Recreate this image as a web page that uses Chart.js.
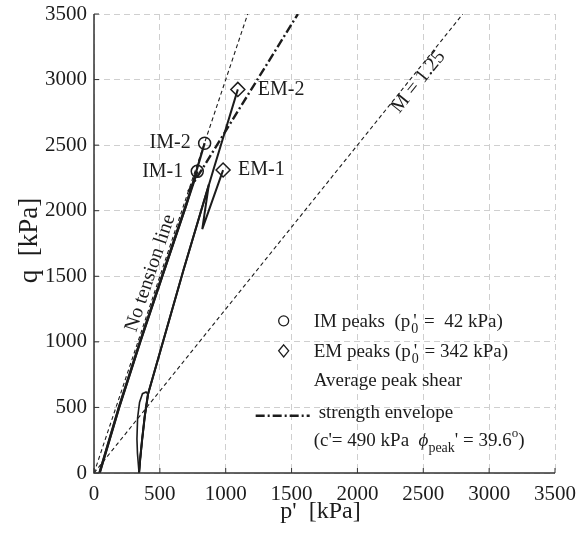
<!DOCTYPE html>
<html>
<head>
<meta charset="utf-8">
<script src="https://cdn.jsdelivr.net/npm/chart.js@4/dist/chart.umd.min.js"></script>
<style>
  html, body { margin:0; padding:0; background:#fff; }
  #wrap { width:582px; height:537px; }
</style>
</head>
<body>
<div id="wrap"><canvas id="pq" width="582" height="537"></canvas></div>
<script>
// p'-q stress paths with peak points and strength lines
const TICKS = [0, 500, 1000, 1500, 2000, 2500, 3000, 3500];

// reference lines
const noTensionP = [0, 1167];
const noTensionQ = [0, 3500];
const csLineP = [0, 2800];      // M = 1.25
const csLineQ = [0, 3500];
const envelopeP = [715, 1548];  // starts where it leaves the no tension line
const envelopeQ = [2145, 3500];

// IM tests (p0' = 42 kPa)
const im1P = [42, 190, 350, 517, 784];
const im1Q = [0, 500, 1000, 1500, 2300];
const im2P = [42, 190, 350, 517, 700, 840];
const im2Q = [0, 500, 1000, 1500, 2040, 2515];

// EM tests (p0' = 342 kPa)
const emLoopP = [342, 330, 326, 331, 346, 368, 395, 410, 385, 365, 350, 342];
const emLoopQ = [0, 150, 260, 420, 540, 605, 618, 600, 430, 250, 100, 0];
const em1P = [342, 350, 365, 385, 410, 680, 872, 822, 980];
const em1Q = [0, 100, 250, 430, 600, 1550, 2200, 1860, 2310];
const em2P = [342, 350, 365, 385, 410, 680, 906, 1092];
const em2Q = [0, 100, 250, 430, 600, 1550, 2311, 2925];

// peaks
const imPeakP = [784, 840];
const imPeakQ = [2300, 2515];
const imPeakNames = ['IM-1', 'IM-2'];
const emPeakP = [980, 1092];
const emPeakQ = [2310, 2925];
const emPeakNames = ['EM-1', 'EM-2'];

const SERIF = '"Liberation Serif", "Times New Roman", serif';
const INK = '#1c1c1c';

const pts = (ps, qs) => ps.map((p, i) => ({ x: p, y: qs[i] }));

function pathSet(ps, qs, width, dash){
  return {
    data: pts(ps, qs), showLine: true, borderColor: INK, borderWidth: width,
    borderDash: dash || [], pointRadius: 0, tension: 0, fill: false
  };
}

// draws a run of text pieces; 'keep' leaves the pen where it was (stacked sub/superscripts)
function richText(ctx, x, y, parts){
  let cx = x;
  for (const s of parts) {
    ctx.font = (s.italic ? 'italic ' : '') + (s.size || 19) + 'px ' + SERIF;
    ctx.fillText(s.t, cx + (s.dx || 0), y + (s.dy || 0));
    if (!s.keep) cx += ctx.measureText(s.t).width + (s.dx || 0);
  }
}

// text placed alongside a straight line, rotated to its pixel slope
function lineLabel(ctx, xs, ys, ps, qs, atQ, text, offset){
  const x0 = xs.getPixelForValue(ps[0]), y0 = ys.getPixelForValue(qs[0]);
  const x1 = xs.getPixelForValue(ps[ps.length-1]), y1 = ys.getPixelForValue(qs[qs.length-1]);
  const len = Math.hypot(x1 - x0, y1 - y0);
  const dx = (x1 - x0) / len, dy = (y1 - y0) / len;
  const p = ps[0] + (atQ - qs[0]) * (ps[ps.length-1] - ps[0]) / (qs[qs.length-1] - qs[0]);
  const cx = xs.getPixelForValue(p) + dy * offset;
  const cy = ys.getPixelForValue(atQ) - dx * offset;
  ctx.save();
  ctx.translate(cx, cy);
  ctx.rotate(Math.atan2(dy, dx));
  ctx.font = '20px ' + SERIF;
  ctx.textAlign = 'center';
  ctx.textBaseline = 'middle';
  ctx.fillText(text, 0, 0);
  ctx.restore();
}

const decor = {
  id: 'decor',
  afterDatasetsDraw(chart){
    const { ctx, chartArea: a } = chart;
    const xs = chart.scales.x, ys = chart.scales.y;
    ctx.save();
    ctx.fillStyle = INK;

    // axes with inward ticks
    ctx.strokeStyle = '#333';
    ctx.lineWidth = 1.5;
    ctx.beginPath();
    ctx.moveTo(a.left, a.top); ctx.lineTo(a.left, a.bottom); ctx.lineTo(a.right, a.bottom);
    ctx.stroke();
    ctx.lineWidth = 1;
    ctx.beginPath();
    TICKS.forEach(v => {
      const px = xs.getPixelForValue(v), py = ys.getPixelForValue(v);
      ctx.moveTo(px, a.bottom); ctx.lineTo(px, a.bottom - 5);
      ctx.moveTo(a.left, py); ctx.lineTo(a.left + 5, py);
    });
    ctx.stroke();

    // axis titles
    ctx.textAlign = 'center';
    ctx.textBaseline = 'middle';
    ctx.font = '24px ' + SERIF;
    ctx.fillText("p'  [kPa]", (a.left + a.right) / 2 - 4, 512);
    ctx.save();
    ctx.font = '27px ' + SERIF;
    ctx.translate(30, (a.top + a.bottom) / 2 - 3);
    ctx.rotate(-Math.PI / 2);
    ctx.fillText('q  [kPa]', 0, 0);
    ctx.restore();

    // peak names
    ctx.font = '20px ' + SERIF;
    ctx.textAlign = 'right';
    imPeakNames.forEach((n, i) => {
      ctx.fillText(n, xs.getPixelForValue(imPeakP[i]) - 14, ys.getPixelForValue(imPeakQ[i]));
    });
    ctx.textAlign = 'left';
    emPeakNames.forEach((n, i) => {
      const gap = i === 0 ? 15 : 20;
      ctx.fillText(n, xs.getPixelForValue(emPeakP[i]) + gap, ys.getPixelForValue(emPeakQ[i]));
    });

    // line names
    lineLabel(ctx, xs, ys, noTensionP, noTensionQ, 1500, 'No tension line', 10);
    lineLabel(ctx, xs, ys, csLineP, csLineQ, 3020, 'M = 1.25', -8);

    // legend block
    const mx = xs.getPixelForValue(1440);
    const tx = mx + 30;
    const y1 = ys.getPixelForValue(1160);
    ctx.textAlign = 'left';
    ctx.textBaseline = 'alphabetic';
    ctx.lineWidth = 1.3;
    ctx.strokeStyle = INK;
    ctx.beginPath(); ctx.arc(mx, y1, 5, 0, Math.PI * 2); ctx.stroke();
    const dy2 = y1 + 30;
    ctx.beginPath();
    ctx.moveTo(mx, dy2 - 6); ctx.lineTo(mx + 5, dy2); ctx.lineTo(mx, dy2 + 6); ctx.lineTo(mx - 5, dy2);
    ctx.closePath(); ctx.stroke();

    richText(ctx, tx, y1 + 6, [
      { t: 'IM peaks  (p' }, { t: "'", dx: 3, keep: true }, { t: '0', size: 14, dy: 6, dx: 1 },
      { t: ' =  42 kPa)', dx: 1 }
    ]);
    richText(ctx, tx, dy2 + 6, [
      { t: 'EM peaks (p' }, { t: "'", dx: 3, keep: true }, { t: '0', size: 14, dy: 6, dx: 1 },
      { t: ' = 342 kPa)', dx: 1 }
    ]);
    richText(ctx, tx, y1 + 65, [{ t: 'Average peak shear' }]);
    const ly = y1 + 95;
    ctx.save();
    ctx.lineWidth = 2.5;
    ctx.setLineDash([9, 3, 2, 3]);
    ctx.beginPath(); ctx.moveTo(mx - 28, ly); ctx.lineTo(mx + 26, ly); ctx.stroke();
    ctx.restore();
    richText(ctx, tx + 5, ly + 2, [{ t: 'strength envelope' }]);
    richText(ctx, tx, y1 + 125, [
      { t: "(c'= 490 kPa  " }, { t: '\u03d5', italic: true }, { t: 'peak', size: 14, dy: 6 },
      { t: "' = 39.6" }, { t: 'o', size: 13, dy: -9 }, { t: ')' }
    ]);

    ctx.restore();
  }
};

const axisCommon = {
  type: 'linear', min: 0, max: 3500,
  grid: { color: '#cfcfcf', lineWidth: 1, drawTicks: false },
  border: { display: false, dash: [6, 4] },
  ticks: { stepSize: 500, color: INK, font: { family: SERIF, size: 21 }, callback: v => String(v) }
};

new Chart(document.getElementById('pq'), {
  type: 'scatter',
  data: {
    datasets: [
      pathSet(noTensionP, noTensionQ, 1.1, [4, 3]),
      pathSet(csLineP, csLineQ, 1.1, [4, 3]),
      pathSet(envelopeP, envelopeQ, 2.4, [9, 3, 2, 3]),
      pathSet(im1P, im1Q, 2.6),
      pathSet(im2P, im2Q, 2.2),
      pathSet(emLoopP, emLoopQ, 1.6),
      pathSet(em1P, em1Q, 2),
      pathSet(em2P, em2Q, 2),
      { data: pts(imPeakP, imPeakQ), pointStyle: 'circle', pointRadius: 6,
        borderColor: INK, borderWidth: 1.5, backgroundColor: 'rgba(0,0,0,0)' },
      { data: pts(emPeakP, emPeakQ), pointStyle: 'rectRot', pointRadius: 7,
        borderColor: INK, borderWidth: 1.5, backgroundColor: 'rgba(0,0,0,0)' }
    ]
  },
  options: {
    responsive: false, animation: false, devicePixelRatio: 1, events: [],
    layout: { padding: { left: 0, right: 27, top: 14, bottom: 0 } },
    plugins: { legend: { display: false }, tooltip: { enabled: false } },
    scales: {
      x: Object.assign({}, axisCommon, {
        ticks: Object.assign({}, axisCommon.ticks, { padding: 9, maxRotation: 0 }),
        afterFit(s){ s.height = 64; s.paddingLeft = 0; s.paddingRight = 0; }
      }),
      y: Object.assign({}, axisCommon, {
        ticks: Object.assign({}, axisCommon.ticks, { padding: 7 }),
        afterFit(s){ s.width = 94; s.paddingTop = 0; s.paddingBottom = 0; }
      })
    }
  },
  plugins: [decor]
});
</script>
</body>
</html>
